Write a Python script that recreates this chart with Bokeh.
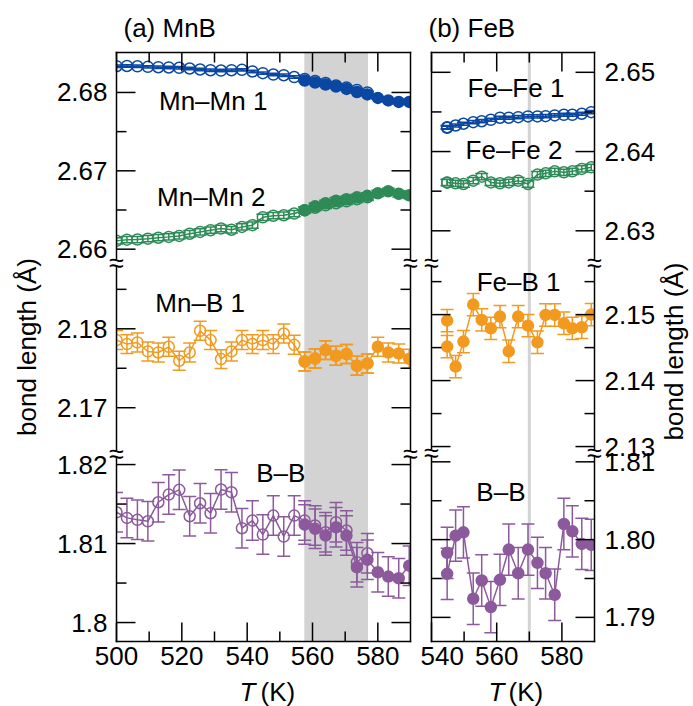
import math
from bokeh.plotting import figure
from bokeh.models import (Range1d, LinearAxis, FixedTicker, CustomJSTickFormatter,
                          Label, BoxAnnotation, ColumnDataSource)
from bokeh.layouts import row, column
from bokeh.embed import file_html
from bokeh.resources import INLINE

# ---------------- data: (a) MnB ----------------
T_MN_OPEN = [500.0, 503.2, 506.4, 509.6, 512.8, 516.0, 519.2, 522.4, 525.6, 528.8,
             532.0, 535.2, 538.4, 541.6, 544.8, 548.0, 551.2, 554.4, 557.6, 560.8,
             564.0, 567.2, 570.4, 573.6, 576.8]
T_MN_FILL = [557.6, 560.8, 564.0, 567.2, 570.4, 573.6, 576.8, 580.0, 583.2, 586.4, 589.6]

MNMN1_OPEN = [2.68335, 2.68338, 2.68334, 2.68327, 2.68322, 2.68319, 2.68315, 2.68306, 2.68293, 2.68284,
              2.68280, 2.68284, 2.68289, 2.68268, 2.68246, 2.68229, 2.68220, 2.68197, 2.68172, 2.68147,
              2.68121, 2.68089, 2.68064, 2.68032, 2.68000]
MNMN1_FILL = [2.68153, 2.68127, 2.68102, 2.68076, 2.68045, 2.68006, 2.67975, 2.67930, 2.67898, 2.67879, 2.67879]

MNMN2_OPEN = [2.66106, 2.66121, 2.66123, 2.66134, 2.66146, 2.66157, 2.66169, 2.66197, 2.66220, 2.66242,
              2.66264, 2.66248, 2.66284, 2.66306, 2.66407, 2.66427, 2.66433, 2.66455, 2.66497, 2.66529,
              2.66560, 2.66586, 2.66611, 2.66637, 2.66662]
MNMN2_FILL = [2.66497, 2.66548, 2.66586, 2.66618, 2.66637, 2.66662, 2.66681, 2.66713, 2.66739, 2.66707, 2.66688]

MNB1_OPEN = [2.17857, 2.17806, 2.17827, 2.17713, 2.17700, 2.17772, 2.17595, 2.17700, 2.17975, 2.17857,
             2.17616, 2.17713, 2.17857, 2.17806, 2.17857, 2.17806, 2.17940, 2.17797, 2.17586, 2.17624,
             2.17730, 2.17658, 2.17680, 2.17532, 2.17561]
MNB1_FILL = [2.17586, 2.17624, 2.17730, 2.17658, 2.17680, 2.17532, 2.17561, 2.17772, 2.17700, 2.17687, 2.17620]

BBMN_OPEN = [1.81396, 1.81325, 1.81300, 1.81282, 1.81523, 1.81620, 1.81680, 1.81346, 1.81510, 1.81384,
             1.81684, 1.81649, 1.81194, 1.81291, 1.81114, 1.81354, 1.81089, 1.81354, 1.81291, 1.81228,
             1.81143, 1.81270, 1.81165, 1.80763, 1.80877]
BBMN_FILL = [1.81240, 1.81186, 1.81101, 1.81206, 1.81101, 1.80700, 1.80794, 1.80637, 1.80582, 1.80561, 1.80720]

ERR_MNMN1 = 0.00015
ERR_MNMN2 = 0.0004
ERR_MNB1 = 0.0012
ERR_BBMN = 0.0025

# ---------------- data: (b) FeB ----------------
T_FE = [544.8, 544.8, 547.4, 549.8, 552.8, 555.4, 558.2, 561.0, 563.7, 566.6,
        569.6, 572.5, 575.0, 577.8, 580.6, 583.2, 586.1, 589.0]
FEFE1 = [2.64300, 2.64308, 2.64329, 2.64351, 2.64371, 2.64383, 2.64401, 2.64427, 2.64427, 2.64434,
         2.64443, 2.64443, 2.64447, 2.64456, 2.64464, 2.64464, 2.64477, 2.64497]
FEFE2 = [2.63607, 2.63611, 2.63599, 2.63591, 2.63633, 2.63683, 2.63611, 2.63599, 2.63611, 2.63633,
         2.63591, 2.63709, 2.63725, 2.63750, 2.63738, 2.63750, 2.63781, 2.63801]
FEB1 = [2.14909, 2.14515, 2.14212, 2.14591, 2.15152, 2.14920, 2.14792, 2.14970, 2.14444, 2.14970,
        2.14833, 2.14580, 2.14995, 2.14995, 2.14868, 2.14792, 2.14808, 2.15000]
BBFE = [1.79830, 1.79560, 1.80051, 1.80094, 1.79240, 1.79474, 1.79132, 1.79483, 1.79872, 1.79568,
        1.79872, 1.79701, 1.79568, 1.79291, 1.80201, 1.80106, 1.79945, 1.79932]
ERR_FEFE1 = 0.0002
ERR_FEFE2 = 0.0004
ERR_FEB1 = 0.0017
ERR_BBFE = 0.0033

# axis segments: (name, low, high, band bottom px, band top px)
LEFT_SEGS = [("top", 2.6583, 2.6851, 379, 589), ("mid", 2.1642, 2.1884, 188, 379), ("bot", 1.7976, 1.8214, 0, 188)]
RIGHT_SEGS = [("top", 2.6260, 2.6525, 379, 589), ("mid", 2.1291, 2.1579, 189, 379), ("bot", 1.7869, 1.8112, 0, 189)]

LEFT_MAJOR = {"top": [2.66, 2.67, 2.68], "mid": [2.17, 2.18], "bot": [1.80, 1.81, 1.82]}
LEFT_LABELS = {"top": ["2.66", "2.67", "2.68"], "mid": ["2.17", "2.18"], "bot": ["1.8", "1.81", "1.82"]}
LEFT_MINOR = {"top": [2.665, 2.675], "mid": [2.175, 2.185], "bot": [1.805, 1.815]}
RIGHT_MAJOR = {"top": [2.63, 2.64, 2.65], "mid": [2.13, 2.14, 2.15], "bot": [1.79, 1.80, 1.81]}
RIGHT_LABELS = {"top": ["2.63", "2.64", "2.65"], "mid": ["2.13", "2.14", "2.15"], "bot": ["1.79", "1.80", "1.81"]}
RIGHT_MINOR = {"top": [2.635, 2.645], "mid": [2.135, 2.145, 2.155], "bot": [1.795, 1.805]}

X_LEFT_MAJOR = [500, 520, 540, 560, 580]
X_LEFT_MINOR = [510, 530, 550, 570]
X_RIGHT_MAJOR = [540, 560, 580]
X_RIGHT_MINOR = [550, 570]

BLUE = "#0a47a3"
GREEN = "#2e8b57"
ORANGE = "#f29a1f"
PURPLE = "#8c5a9c"
GRAY = "#d3d3d3"

FONT = "Liberation Sans"
FS = "26px"
H = 589          # plot box height in px
EXT_X = 8        # frame extends beyond the drawn box (room for break marks)
EXT_Y = 2
LW = 1.5
BOT_B = 32
GAP = 3.5        # half height of the axis break gap, px


def text_fig(w, h, bt=0, bb=0):
    p = figure(frame_width=w, frame_height=h, x_range=Range1d(0, w), y_range=Range1d(0, h),
               min_border_left=0, min_border_right=0, min_border_top=bt, min_border_bottom=bb,
               output_backend="svg", toolbar_location=None,
               x_axis_location=None, y_axis_location=None)
    p.outline_line_color = None
    p.grid.visible = False
    p.background_fill_color = "white"
    p.border_fill_color = "white"
    return p


def make_fig(x0, x1, box_w, bl, br):
    s = box_w / (x1 - x0)
    p = figure(frame_width=box_w + 2 * EXT_X, frame_height=H + 2 * EXT_Y,
               x_range=Range1d(x0 - EXT_X / s, x1 + EXT_X / s), y_range=Range1d(-EXT_Y, H + EXT_Y),
               min_border_left=bl, min_border_right=br, min_border_top=0, min_border_bottom=BOT_B,
               output_backend="svg", toolbar_location=None,
               x_axis_location=None, y_axis_location=None)
    p.outline_line_color = None
    p.grid.visible = False
    p.background_fill_color = "white"
    p.border_fill_color = "white"
    return p, s


def seg_ranges(p, segs):
    out = {}
    for name, lo, hi, b0, b1 in segs:
        k = (hi - lo) / (b1 - b0)
        p.extra_y_ranges[name] = Range1d(lo - b0 * k - EXT_Y * k, hi + (H - b1) * k + EXT_Y * k)
        out[name] = (lo, hi, b0, b1)
    return out


def to_px(seginfo, v):
    lo, hi, b0, b1 = seginfo
    return b0 + (v - lo) / (hi - lo) * (b1 - b0)


def label_axis(ax, standoff):
    ax.axis_line_color = None
    ax.major_tick_line_color = None
    ax.minor_tick_line_color = None
    ax.major_tick_in = 0
    ax.major_tick_out = 0
    ax.minor_tick_in = 0
    ax.minor_tick_out = 0
    ax.major_label_text_font = FONT
    ax.major_label_text_font_size = FS
    ax.major_label_text_color = "black"
    ax.major_label_standoff = standoff
    ax.axis_label_text_font = FONT
    ax.axis_label_text_font_size = FS
    ax.axis_label_text_font_style = "normal"
    ax.axis_label_text_color = "black"


def masks(p, x0, x1):
    for kw in (dict(right=x0), dict(left=x1), dict(bottom=H), dict(top=0)):
        p.add_layout(BoxAnnotation(fill_color="white", fill_alpha=1.0, line_color=None,
                                   level="annotation", **kw))


def box_and_ticks(p, x0, x1, ypos_major, ypos_minor, xmajor, xminor, brk):
    # box edges, interrupted at the axis breaks
    edges = [(x0, 0, x1, 0), (x0, H, x1, H)]
    cuts = [0] + sorted(brk) + [H]
    for xe in (x0, x1):
        for i in range(len(cuts) - 1):
            ya = cuts[i] + (GAP if i > 0 else 0)
            yb = cuts[i + 1] - (GAP if i < len(cuts) - 2 else 0)
            edges.append((xe, ya, xe, yb))
    p.segment([e[0] for e in edges], [e[1] for e in edges], [e[2] for e in edges], [e[3] for e in edges],
              line_color="black", line_width=LW, line_cap="square", level="overlay")
    # inward ticks
    for ys, ln in ((ypos_major, 19), (ypos_minor, 10)):
        p.ray([x0] * len(ys), ys, length=ln, length_units="screen", angle=0,
              line_color="black", line_width=LW, level="overlay")
        p.ray([x1] * len(ys), ys, length=ln, length_units="screen", angle=math.pi,
              line_color="black", line_width=LW, level="overlay")
    for xs, ln in ((xmajor, 19), (xminor, 10)):
        p.ray(xs, [0] * len(xs), length=ln, length_units="screen", angle=math.pi / 2,
              line_color="black", line_width=LW, level="overlay")
        p.ray(xs, [H] * len(xs), length=ln, length_units="screen", angle=-math.pi / 2,
              line_color="black", line_width=LW, level="overlay")
    # break marks
    for xe in (x0, x1):
        for yb in brk:
            p.add_layout(Label(x=xe, y=yb, text="≈", text_color="black", text_font=FONT,
                               text_font_size="27px", text_align="center", text_baseline="middle",
                               level="overlay"))


def y_positions(info, major, labels, minor):
    pos, labs, mpos = [], [], []
    for name in info:
        for v, l in zip(major[name], labels[name]):
            pos.append(to_px(info[name], v))
            labs.append(l)
        for v in minor[name]:
            mpos.append(to_px(info[name], v))
    return pos, labs, mpos


def y_label_axis(p, side, pos, labs, standoff, title=None):
    ax = LinearAxis(ticker=FixedTicker(ticks=pos, minor_ticks=[]))
    label_axis(ax, standoff)
    ax.formatter = CustomJSTickFormatter(args=dict(pos=pos, labs=labs), code="""
        for (let i = 0; i < pos.length; i++) { if (Math.abs(pos[i] - tick) < 0.01) return labs[i]; }
        return '';""")
    if title:
        ax.axis_label = title
        ax.axis_label_standoff = 12
    p.add_layout(ax, side)


def x_label_axis(p, major):
    ax = LinearAxis(ticker=FixedTicker(ticks=major, minor_ticks=[]))
    label_axis(ax, 3)
    p.add_layout(ax, "below")


def series(p, rng, T, V, err, color, filled):
    src = ColumnDataSource(dict(x=T, y=V, lo=[v - err for v in V], hi=[v + err for v in V]))
    p.line("x", "y", source=src, y_range_name=rng, line_color=color, line_width=LW)
    p.segment("x", "lo", "x", "hi", source=src, y_range_name=rng, line_color=color, line_width=LW)
    for c in ("lo", "hi"):
        p.scatter("x", c, source=src, y_range_name=rng, marker="dash", size=13,
                  line_color=color, line_width=LW)
    p.scatter("x", "y", source=src, y_range_name=rng, marker="circle", size=11,
              line_color=color, line_width=LW, fill_color=color if filled else None)


def text(p, x, y, s, align="center", style="normal", angle=0.0):
    p.add_layout(Label(x=x, y=y, text=s, text_font=FONT, text_font_size=FS, text_align=align,
                       text_baseline="middle", text_font_style=style, text_color="black", angle=angle))


# ---------------- panel (a) ----------------
pa, sa = make_fig(500, 590, 294, 108, 2)
ia = seg_ranges(pa, LEFT_SEGS)
pa.add_layout(BoxAnnotation(left=557.5, right=577.0, bottom=0, top=H, fill_color=GRAY, fill_alpha=1.0,
                            line_color=None, level="underlay"))
series(pa, "top", T_MN_FILL, MNMN1_FILL, ERR_MNMN1, BLUE, True)
series(pa, "top", T_MN_OPEN, MNMN1_OPEN, ERR_MNMN1, BLUE, False)
series(pa, "top", T_MN_FILL, MNMN2_FILL, ERR_MNMN2, GREEN, True)
series(pa, "top", T_MN_OPEN, MNMN2_OPEN, ERR_MNMN2, GREEN, False)
series(pa, "mid", T_MN_FILL, MNB1_FILL, ERR_MNB1, ORANGE, True)
series(pa, "mid", T_MN_OPEN, MNB1_OPEN, ERR_MNB1, ORANGE, False)
series(pa, "bot", T_MN_FILL, BBMN_FILL, ERR_BBMN, PURPLE, True)
series(pa, "bot", T_MN_OPEN, BBMN_OPEN, ERR_BBMN, PURPLE, False)
masks(pa, 500, 590)
pos_a, labs_a, mpos_a = y_positions(ia, LEFT_MAJOR, LEFT_LABELS, LEFT_MINOR)
box_and_ticks(pa, 500, 590, pos_a, mpos_a, X_LEFT_MAJOR, X_LEFT_MINOR, [LEFT_SEGS[1][3], LEFT_SEGS[0][3]])
y_label_axis(pa, "left", pos_a, labs_a, 1, "bond length (Å)")
x_label_axis(pa, X_LEFT_MAJOR)

text(pa, 529.6, 541, "Mn–Mn 1")
text(pa, 529.0, 445, "Mn–Mn 2")
text(pa, 525.6, 339, "Mn–B 1")
text(pa, 550.3, 169, "B–B")

# ---------------- panel (b) ----------------
pb, sb = make_fig(540, 590, 163, 3, 54)
ib = seg_ranges(pb, RIGHT_SEGS)
pb.add_layout(BoxAnnotation(left=570 - 1.5 / sb, right=570 + 1.5 / sb, bottom=0, top=H,
                            fill_color=GRAY, fill_alpha=1.0, line_color=None, level="underlay"))
series(pb, "top", T_FE, FEFE1, ERR_FEFE1, BLUE, False)
series(pb, "top", T_FE, FEFE2, ERR_FEFE2, GREEN, False)
series(pb, "mid", T_FE, FEB1, ERR_FEB1, ORANGE, True)
series(pb, "bot", T_FE, BBFE, ERR_BBFE, PURPLE, True)
masks(pb, 540, 590)
pos_b, labs_b, mpos_b = y_positions(ib, RIGHT_MAJOR, RIGHT_LABELS, RIGHT_MINOR)
box_and_ticks(pb, 540, 590, pos_b, mpos_b, X_RIGHT_MAJOR, X_RIGHT_MINOR, [RIGHT_SEGS[1][3], RIGHT_SEGS[0][3]])
y_label_axis(pb, "right", pos_b, labs_b, 2)
x_label_axis(pb, X_RIGHT_MAJOR)

text(pb, 565.9, 554, "Fe–Fe 1")
text(pb, 565.3, 492, "Fe–Fe 2")
text(pb, 566.7, 360, "Fe–B 1")
text(pb, 561.3, 150, "B–B")

# right-hand axis title strip
rb = text_fig(37, H + 2 * EXT_Y, bt=0, bb=BOT_B)
text(rb, 15, 292, "bond length (Å)", angle=math.pi / 2)

# panel titles strip (top) and x-axis titles strip (bottom), in page pixels
top_strip = text_fig(693, 50)
text(top_strip, 123, 23, "(a) MnB", align="left")
text(top_strip, 428, 23, "(b) FeB", align="left")

bot_strip = text_fig(693, 31)
text(bot_strip, 255, 15, "T", align="right", style="italic")
text(bot_strip, 260, 15, "(K)", align="left")
text(bot_strip, 504, 15, "T", align="right", style="italic")
text(bot_strip, 508, 15, "(K)", align="left")

layout = column(top_strip, row(pa, pb, rb), bot_strip)
open("out.html", "w").write(file_html(layout, INLINE))
